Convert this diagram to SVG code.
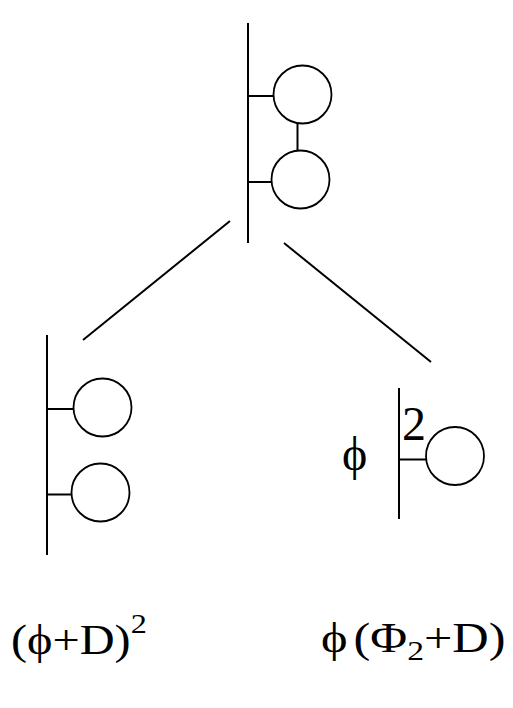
<svg xmlns="http://www.w3.org/2000/svg" width="513" height="708" viewBox="0 0 513 708">
<style>
.l{stroke:#000;stroke-width:2;fill:none}
.c{stroke:#000;stroke-width:1.8;fill:#fff}
.t{font-family:"Liberation Serif","Times New Roman",serif;fill:#000}
</style>
<rect width="513" height="708" fill="#fff"/>
<g id="connectors">
<line class="l" x1="230" y1="221" x2="83" y2="340"/>
<line class="l" x1="284" y1="243" x2="431" y2="362"/>
</g>
<g id="top">
<line class="l" x1="248" y1="23" x2="248" y2="243"/>
<line class="l" x1="247" y1="96" x2="274" y2="96"/>
<line class="l" x1="247" y1="182" x2="272" y2="182"/>
<line class="l" x1="297.5" y1="123" x2="297.5" y2="151"/>
<circle class="c" cx="302.5" cy="94.5" r="29"/>
<circle class="c" cx="300.5" cy="179.5" r="29"/>
</g>
<g id="left">
<line class="l" x1="47" y1="335" x2="47" y2="555"/>
<line class="l" x1="46" y1="409" x2="74" y2="409"/>
<line class="l" x1="46" y1="494.5" x2="72" y2="494.5"/>
<circle class="c" cx="102.5" cy="407.5" r="29"/>
<circle class="c" cx="100.5" cy="492.5" r="29"/>
</g>
<g id="right">
<line class="l" x1="399" y1="388" x2="399" y2="519"/>
<line class="l" x1="399" y1="459.5" x2="426" y2="459.5"/>
<circle class="c" cx="455" cy="456" r="29"/>
<text class="t" x="342" y="470" font-size="48">ϕ</text>
<text class="t" x="402" y="440" font-size="48">2</text>
</g>
<g id="label-left">
<text class="t" transform="translate(11,654) scale(1.15,1)" font-size="42">(ϕ+D)<tspan font-size="28" dy="-21">2</tspan></text>
</g>
<g id="label-right">
<text class="t" transform="translate(321,652) scale(1.2,1)" font-size="42">ϕ<tspan dx="5">(Φ</tspan><tspan font-size="28" dy="8">2</tspan><tspan dy="-8">+D)</tspan></text>
</g>
</svg>
